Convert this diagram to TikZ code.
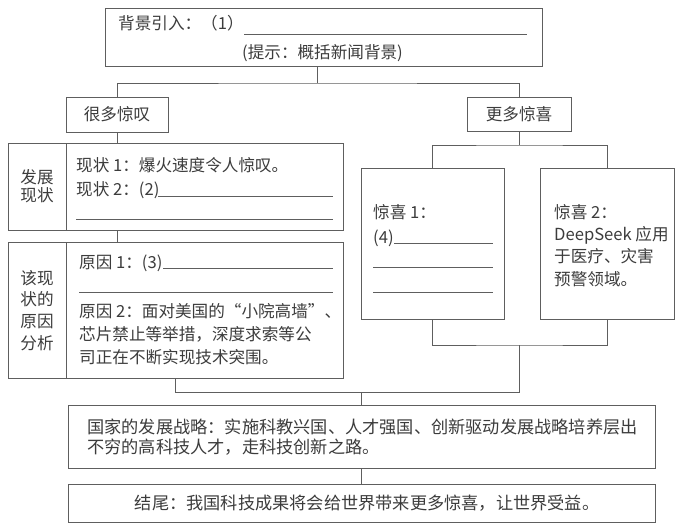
\documentclass[tikz,border=0pt]{standalone}
\usepackage{fontspec}
\setmainfont{Noto Sans CJK SC}
\definecolor{ln}{HTML}{5E5E5E}
\definecolor{tx}{HTML}{3C3C3C}
\tikzset{
  box/.style={draw=ln, line width=0.8pt, inner sep=0pt, outer sep=0pt},
  conn/.style={draw=ln, line width=0.8pt},
  blank/.style={draw=ln, line width=0.6pt},
  txt/.style={text=tx, font=\fontsize{16.6}{20}\selectfont, inner sep=0pt, anchor=west},
  bigtxt/.style={text=tx, font=\fontsize{17.2}{20}\selectfont, inner sep=0pt},
}
\begin{document}
\begin{tikzpicture}[x=1pt,y=-1pt]
\useasboundingbox[fill=white] (0,0) rectangle (684,527);

% boxes
\node[box, minimum width=437pt, minimum height=58pt] (top) at (323.5,37) {};
\node[box, minimum width=102pt, minimum height=35pt, txt, anchor=center] (wd) at (117,114.5) {很多惊叹};
\node[box, minimum width=104pt, minimum height=34pt, txt, anchor=center] (gx) at (519,114) {更多惊喜};
\node[box, minimum width=58pt, minimum height=87pt, txt, anchor=center, align=center,
      font=\fontsize{16.6}{18}\selectfont] (devlab) at (37,186.5) {发展\\现状};
\node[box, minimum width=277pt, minimum height=87pt] (devbody) at (204.5,186.5) {};
\node[box, minimum width=58pt, minimum height=136pt, txt, anchor=center, align=center,
      font=\fontsize{16.6}{21.7}\selectfont] (cslab) at (37,310.5) {该现\\状的\\原因\\分析};
\node[box, minimum width=277pt, minimum height=136pt] (csbody) at (204.5,310) {};
\node[box, minimum width=143pt, minimum height=151pt] (s1) at (432.5,243.5) {};
\node[box, minimum width=134pt, minimum height=151pt] (s2) at (607,243.5) {};
\node[box, minimum width=587pt, minimum height=63pt] (strat) at (361.5,436.5) {};
\node[box, minimum width=587pt, minimum height=38pt] (fin) at (361.5,503) {};

% connectors
\coordinate (jt) at (317,83);
\draw[conn] (top.south -| jt) -- (jt);
\draw[conn] (wd.north) |- (jt) -| (gx.north);
\draw[conn] (wd.south) -- (wd.south |- devbody.north);
\draw[conn] (wd.south |- devbody.south) -- (wd.south |- csbody.north);
\coordinate (jr) at (519,145);
\draw[conn] (gx.south) -- (jr);
\draw[conn] (s1.north) |- (jr) -| (s2.north);
\coordinate (jb) at (519,345);
\draw[conn] (s1.south) |- (jb) -| (s2.south);
\coordinate (jl) at (175,392);
\draw[conn] (jl |- csbody.south) -- (jl) -- (jb |- jl) -- (jb);
\draw[conn] (strat.north |- jl) -- (strat.north);
\draw[conn] (strat.south) -- (fin.north);

% top box text
\node[txt] (t1) at (118,23) {背景引入：（1）};
\draw[blank] (244,34) -- (527,34);
\node[txt, anchor=center] (t2) at (322.5,53) {(提示：概括新闻背景)};

% development status
\node[txt] (d1) at (76,165) {现状 1：爆火速度令人惊叹。};
\node[txt] (d2) at (76,190) {现状 2：(2)};
\draw[blank] (158,196) -- (333,196);
\draw[blank] (76,219) -- (333,219);

% causes
\node[txt] (c1) at (79,263) {原因 1：(3)};
\draw[blank] (163,268.5) -- (333,268.5);
\draw[blank] (79,292) -- (333,292);
\node[txt, align=left, font=\fontsize{16.6}{23}\selectfont] (c2) at (79,334.5)
  {原因 2：面对美国的“小院高墙”、\\芯片禁止等举措，深度求索等公\\司正在不断实现技术突围。};

% surprise 1
\node[txt] (x1) at (373,212) {惊喜 1：};
\node[txt] (x2) at (373,238) {(4)};
\draw[blank] (394,243) -- (493,243);
\draw[blank] (373,267) -- (493,267);
\draw[blank] (373,292) -- (493,292);

% surprise 2
\node[txt, align=left, font=\fontsize{16.6}{22.3}\selectfont] (y1) at (554,245.5)
  {惊喜 2：\\DeepSeek 应用\\于医疗、灾害\\预警领域。};

% strategy and ending
\node[bigtxt, anchor=west, align=left] (st) at (87,437)
  {国家的发展战略：实施科教兴国、人才强国、创新驱动发展战略培养层出\\不穷的高科技人才，走科技创新之路。};
\node[bigtxt, anchor=center] (en) at (367,503)
  {结尾：我国科技成果将会给世界带来更多惊喜，让世界受益。};
\end{tikzpicture}
\end{document}
